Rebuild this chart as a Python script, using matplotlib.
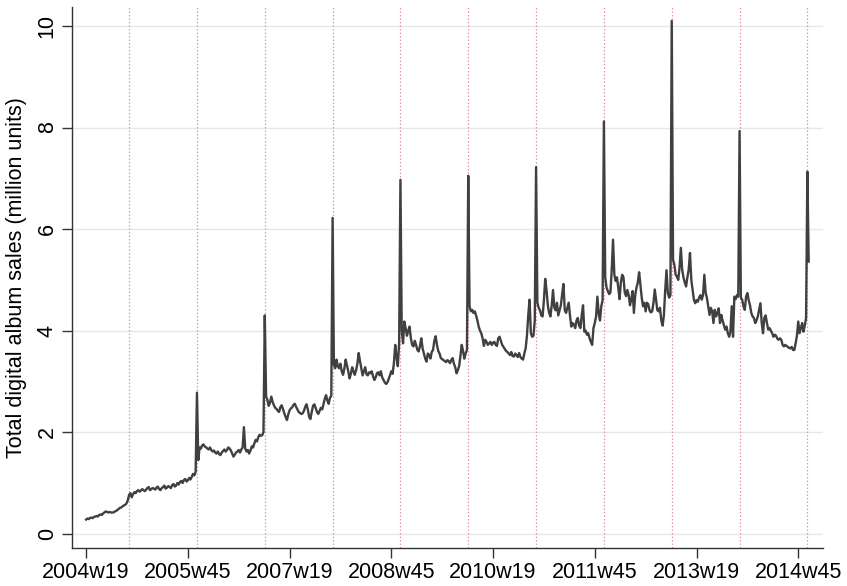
import matplotlib
matplotlib.use("Agg")
import matplotlib.pyplot as plt

plt.rcParams['font.family'] = ['Liberation Sans', 'DejaVu Sans']

# weekly digital album sales, million units (Stata %tw weeks: 52 per year)
sales_2004 = [0.28, 0.30, 0.29, 0.31, 0.32, 0.31, 0.33, 0.34, 0.35, 0.34,
              0.37, 0.38, 0.37, 0.40, 0.42, 0.44, 0.43, 0.42, 0.43, 0.42,
              0.42, 0.42, 0.44, 0.45, 0.47, 0.49, 0.51, 0.52, 0.54, 0.56,
              0.57, 0.60, 0.66, 0.77]
sales_2005 = [0.80, 0.72, 0.78, 0.82, 0.80, 0.84, 0.86, 0.83, 0.85, 0.88,
              0.86, 0.84, 0.87, 0.90, 0.92, 0.86, 0.88, 0.90, 0.89, 0.87,
              0.91, 0.93, 0.88, 0.86, 0.90, 0.92, 0.95, 0.89, 0.91, 0.94,
              0.92, 0.90, 0.96, 0.98, 0.93, 0.95, 1.00, 0.97, 1.02, 1.04,
              1.00, 1.06, 1.08, 1.03, 1.05, 1.10, 1.07, 1.12, 1.18, 1.15,
              1.22, 2.78]
sales_2006 = [1.45, 1.70, 1.68, 1.74, 1.76, 1.72, 1.70, 1.68, 1.66, 1.70,
              1.65, 1.62, 1.64, 1.60, 1.58, 1.62, 1.57, 1.55, 1.60, 1.63,
              1.66, 1.62, 1.65, 1.70, 1.68, 1.64, 1.58, 1.52, 1.56, 1.60,
              1.62, 1.65, 1.60, 1.66, 1.70, 2.10, 1.68, 1.62, 1.65, 1.58,
              1.64, 1.72, 1.70, 1.78, 1.85, 1.82, 1.90, 1.95, 1.93, 1.94,
              2.00, 4.30]
sales_2007 = [2.70, 2.64, 2.52, 2.58, 2.70, 2.60, 2.53, 2.48, 2.46, 2.42,
              2.40, 2.50, 2.53, 2.45, 2.37, 2.30, 2.24, 2.35, 2.43, 2.47,
              2.49, 2.54, 2.56, 2.50, 2.45, 2.40, 2.38, 2.36, 2.37, 2.42,
              2.50, 2.55, 2.45, 2.30, 2.26, 2.40, 2.52, 2.55, 2.48, 2.40,
              2.36, 2.42, 2.48, 2.45, 2.55, 2.66, 2.73, 2.62, 2.56, 2.68,
              2.72, 6.22]
sales_2008 = [3.33, 3.26, 3.43, 3.30, 3.26, 3.35, 3.20, 3.13, 3.25, 3.43,
              3.32, 3.20, 3.06, 3.15, 3.28, 3.20, 3.13, 3.22, 3.35, 3.56,
              3.40, 3.26, 3.12, 3.20, 3.28, 3.14, 3.12, 3.18, 3.16, 3.20,
              3.10, 3.03, 3.08, 3.16, 3.18, 3.12, 3.20, 3.08, 3.03, 2.98,
              2.95, 2.98, 3.05, 3.12, 3.20, 3.15, 3.36, 3.72, 3.48, 3.30,
              3.75, 6.97]
sales_2009 = [4.00, 3.75, 4.18, 4.05, 3.90, 4.00, 4.08, 3.85, 3.72, 3.69,
              3.80, 3.72, 3.62, 3.59, 3.70, 3.85, 3.65, 3.55, 3.45, 3.39,
              3.55, 3.52, 3.45, 3.58, 3.62, 3.80, 3.89, 3.72, 3.60, 3.55,
              3.46, 3.44, 3.42, 3.40, 3.38, 3.42, 3.40, 3.36, 3.42, 3.46,
              3.35, 3.28, 3.16, 3.22, 3.30, 3.50, 3.72, 3.60, 3.45, 3.55,
              3.62, 7.05]
sales_2010 = [4.48, 4.38, 4.41, 4.35, 4.38, 4.30, 4.20, 4.08, 4.00, 3.95,
              3.85, 3.70, 3.82, 3.78, 3.72, 3.75, 3.78, 3.72, 3.76, 3.78,
              3.72, 3.70, 3.85, 3.88, 3.80, 3.72, 3.68, 3.64, 3.60, 3.58,
              3.55, 3.52, 3.58, 3.50, 3.49, 3.55, 3.52, 3.48, 3.56, 3.48,
              3.45, 3.43, 3.55, 3.65, 3.90, 4.30, 4.61, 3.95, 3.88, 3.90,
              4.20, 7.22]
sales_2011 = [4.55, 4.45, 4.40, 4.30, 4.28, 4.60, 5.02, 4.80, 4.50, 4.35,
              4.28, 4.50, 4.80, 4.45, 4.40, 4.55, 4.30, 4.40, 4.50, 4.72,
              4.92, 4.40, 4.35, 4.45, 4.55, 4.30, 4.08, 4.15, 4.12, 4.05,
              4.20, 4.25, 4.10, 4.05, 4.30, 4.50, 3.98, 4.00, 3.92, 3.95,
              3.85, 3.78, 3.72, 4.05, 4.15, 4.28, 4.67, 4.34, 4.20, 4.48,
              4.60, 8.12]
sales_2012 = [5.05, 4.85, 4.78, 4.72, 4.75, 5.20, 5.79, 5.10, 4.98, 5.05,
              4.85, 4.62, 4.95, 5.10, 5.05, 4.75, 4.68, 4.80, 4.70, 4.50,
              4.62, 4.78, 4.35, 4.70, 4.85, 4.95, 5.15, 4.90, 4.65, 4.48,
              4.55, 4.38, 4.55, 4.52, 4.40, 4.36, 4.38, 4.55, 4.81, 4.60,
              4.40, 4.38, 4.45, 4.20, 4.10, 4.30, 4.80, 5.19, 4.75, 4.65,
              4.70, 10.10]
sales_2013 = [5.40, 5.30, 5.10, 5.06, 5.00, 5.25, 5.63, 5.20, 5.05, 4.95,
              4.87, 5.05, 5.20, 5.53, 5.00, 4.80, 4.61, 4.54, 4.60, 4.57,
              4.65, 4.70, 4.61, 4.70, 5.10, 4.75, 4.64, 4.48, 4.31, 4.45,
              4.38, 4.15, 4.41, 4.28, 4.35, 4.44, 4.15, 4.31, 4.20, 4.11,
              4.02, 4.08, 3.95, 3.88, 3.98, 4.48, 3.88, 4.67, 4.62, 4.70,
              4.67, 7.93]
sales_2014 = [4.65, 4.61, 4.48, 4.41, 4.67, 4.74, 4.60, 4.50, 4.35, 4.28,
              4.25, 4.15, 4.20, 4.28, 4.41, 4.54, 4.15, 3.95, 4.25, 4.30,
              4.15, 4.02, 4.05, 4.00, 3.95, 3.88, 3.92, 3.90, 3.84, 3.82,
              3.85, 3.82, 3.72, 3.69, 3.72, 3.70, 3.68, 3.66, 3.65, 3.68,
              3.62, 3.62, 3.75, 3.90, 4.18, 3.95, 4.05, 4.15, 3.98, 4.10,
              4.25, 7.13]
sales_2015 = [5.36]

series = [(2004, 19, sales_2004), (2005, 1, sales_2005), (2006, 1, sales_2006),
          (2007, 1, sales_2007), (2008, 1, sales_2008), (2009, 1, sales_2009),
          (2010, 1, sales_2010), (2011, 1, sales_2011), (2012, 1, sales_2012),
          (2013, 1, sales_2013), (2014, 1, sales_2014), (2015, 1, sales_2015)]

tick_labels = ['2004w19', '2005w45', '2007w19', '2008w45',
               '2010w19', '2011w45', '2013w19', '2014w45']
christmas_years = list(range(2004, 2015))


def week_index(year, week):
    # weeks counted from 2004w19
    return (year - 2004) * 52 + (week - 19)


x, y = [], []
for year, first_week, values in series:
    for i, v in enumerate(values):
        x.append(week_index(year, first_week + i))
        y.append(v)

fig = plt.figure(figsize=(8.47, 5.86), dpi=100)
ax = fig.add_axes([0.0847, 0.0648, 0.887, 0.923])

for yv in range(0, 11, 2):
    ax.axhline(yv, color='#e6e8e8', lw=1.0, zorder=0)

# week 52 of every year
for yr in christmas_years:
    ax.axvline(week_index(yr, 52), color='#e896a6', lw=0.9, ls=(0, (1.2, 1.6)), zorder=1)

ax.plot(x, y, color='#404040', lw=1.7, zorder=3)

ticks = [week_index(int(s[:4]), int(s[5:])) for s in tick_labels]
ax.set_xticks(ticks)
ax.set_xticklabels(tick_labels, fontsize=15.5)
ax.set_yticks(range(0, 11, 2))
ax.set_yticklabels([str(v) for v in range(0, 11, 2)], fontsize=15.5,
                   rotation=90, va='center')
ax.set_xlim(-11, 565)
ax.set_ylim(-0.28, 10.37)
ax.set_ylabel('Total digital album sales (million units)', fontsize=15.5, labelpad=7)

for side in ('top', 'right'):
    ax.spines[side].set_visible(False)
for side in ('left', 'bottom'):
    ax.spines[side].set_color('#333333')
    ax.spines[side].set_linewidth(1.0)
ax.tick_params(length=7, width=1.0, color='#333333', pad=3)

fig.savefig('out.png', dpi=100, facecolor='white')
